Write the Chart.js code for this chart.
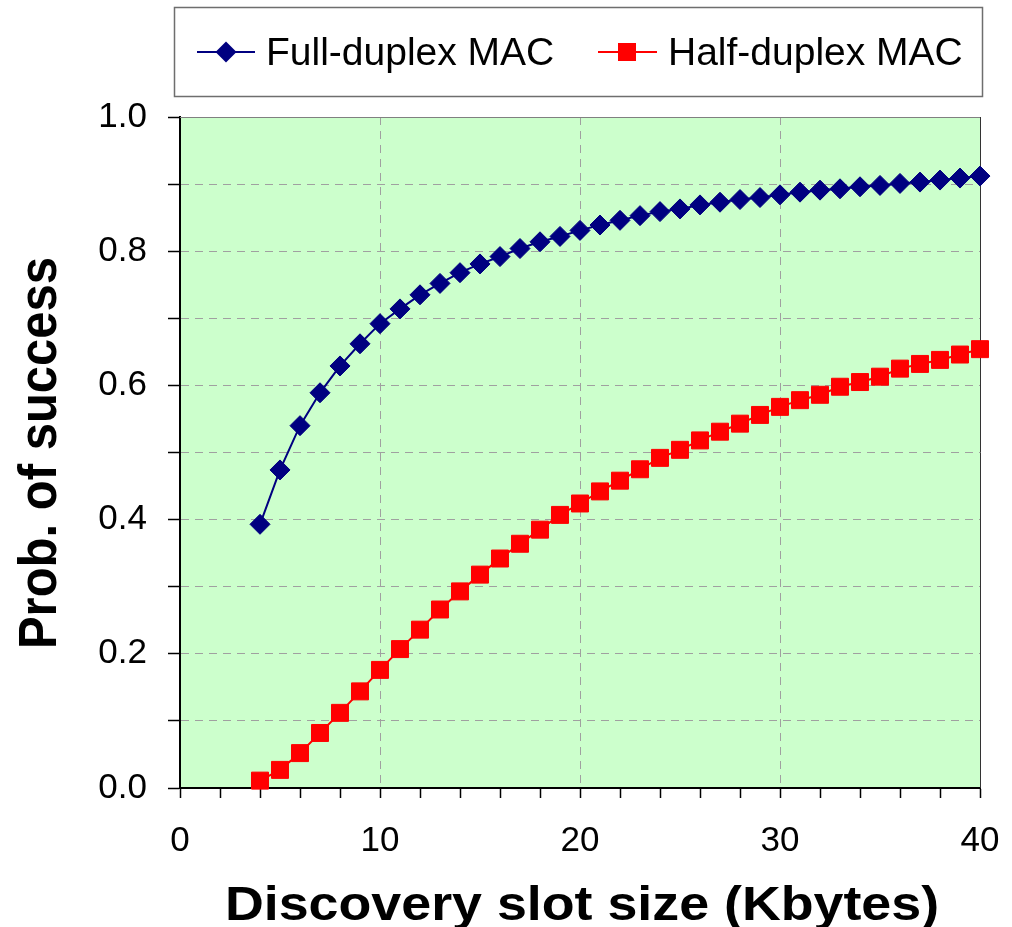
<!DOCTYPE html>
<html lang="en">
<head>
<meta charset="UTF-8">
<title>Prob. of success vs discovery slot size</title>
<script src="https://cdn.jsdelivr.net/npm/chart.js"></script>
<style>
  html, body { margin: 0; padding: 0; background: #fff; }
  #wrap { position: relative; width: 1012px; height: 927px; }
</style>
</head>
<body>
<div id="wrap"><canvas id="chart"></canvas></div>

<script>
// values
const slotSizes = [4, 5, 6, 7, 8, 9, 10, 11, 12, 13, 14, 15, 16, 17, 18, 19, 20, 21, 22,
                   23, 24, 25, 26, 27, 28, 29, 30, 31, 32, 33, 34, 35, 36, 37, 38, 39, 40];
const fullDuplex = [0.393, 0.474, 0.540, 0.589, 0.629, 0.662, 0.692, 0.714, 0.735, 0.752,
                    0.768, 0.781, 0.792, 0.804, 0.814, 0.822, 0.831, 0.839, 0.846, 0.853,
                    0.859, 0.863, 0.869, 0.873, 0.877, 0.880, 0.884, 0.888, 0.891, 0.893,
                    0.896, 0.898, 0.901, 0.903, 0.906, 0.909, 0.912];
const halfDuplex = [0.011, 0.027, 0.052, 0.082, 0.112, 0.144, 0.176, 0.207, 0.236, 0.266,
                    0.293, 0.318, 0.342, 0.364, 0.385, 0.407, 0.424, 0.442, 0.458, 0.475,
                    0.492, 0.504, 0.518, 0.531, 0.543, 0.556, 0.568, 0.578, 0.586, 0.598,
                    0.605, 0.613, 0.625, 0.632, 0.638, 0.646, 0.654];
const seriesNames = ['Full-duplex MAC', 'Half-duplex MAC'];
const xTickLabels = [0, 10, 20, 30, 40];
const yTickLabels = [0.0, 0.2, 0.4, 0.6, 0.8, 1.0];
const xTitle = 'Discovery slot size (Kbytes)';
const yTitle = 'Prob. of success';

const FONT = "'Liberation Sans', Arial, sans-serif";
Chart.defaults.font.family = FONT;
Chart.defaults.color = '#000';

// green plot area + thin frame on top/right
const plotFrame = {
    id: 'plotFrame',
    beforeDraw(chart) {
        const { ctx, chartArea: a } = chart;
        ctx.save();
        ctx.fillStyle = '#CCFFCC';
        ctx.fillRect(a.left, a.top, a.right - a.left, a.bottom - a.top);
        ctx.restore();
    },
    beforeDatasetsDraw(chart) {
        const { ctx, chartArea: a } = chart;
        ctx.save();
        ctx.lineWidth = 1;
        ctx.strokeStyle = '#808080';
        ctx.beginPath();
        ctx.moveTo(a.left, a.top + 0.5);
        ctx.lineTo(a.right, a.top + 0.5);
        ctx.stroke();
        ctx.strokeStyle = '#333';
        ctx.beginPath();
        ctx.moveTo(a.right + 0.5, a.top);
        ctx.lineTo(a.right + 0.5, a.bottom);
        ctx.stroke();
        ctx.restore();
    }
};

// legend in a box, line + marker like the original
const boxedLegend = {
    id: 'boxedLegend',
    afterDraw(chart) {
        const ctx = chart.ctx;
        ctx.save();
        ctx.strokeStyle = '#6e6e6e';
        ctx.lineWidth = 1.5;
        ctx.strokeRect(174.5, 7.5, 808, 89);

        const slots = [
            { x0: 197, x1: 255, mx: 226, tx: 266 },
            { x0: 598, x1: 657, mx: 627, tx: 668 }
        ];
        const cy = 52;
        chart.data.datasets.forEach((ds, i) => {
            const s = slots[i];
            ctx.strokeStyle = ds.borderColor;
            ctx.lineWidth = 2;
            ctx.beginPath();
            ctx.moveTo(s.x0, cy);
            ctx.lineTo(s.x1, cy);
            ctx.stroke();
            ctx.fillStyle = ds.backgroundColor;
            ctx.beginPath();
            if (ds.pointStyle === 'rectRot') {
                ctx.moveTo(s.mx - 10.5, cy);
                ctx.lineTo(s.mx, cy - 10.5);
                ctx.lineTo(s.mx + 10.5, cy);
                ctx.lineTo(s.mx, cy + 10.5);
                ctx.closePath();
            } else {
                ctx.rect(s.mx - 9, cy - 9, 18, 18);
            }
            ctx.fill();
            ctx.fillStyle = '#000';
            ctx.font = '39px ' + FONT;
            ctx.textBaseline = 'alphabetic';
            ctx.textAlign = 'left';
            ctx.fillText(ds.label, s.tx, 65);
        });
        ctx.restore();
    }
};

// bold axis titles, slightly wide like the original
const axisTitles = {
    id: 'axisTitles',
    afterDraw(chart) {
        const ctx = chart.ctx;
        ctx.save();
        ctx.fillStyle = '#000';
        ctx.textAlign = 'center';
        ctx.textBaseline = 'alphabetic';

        ctx.font = 'bold 48px ' + FONT;
        ctx.save();
        ctx.translate(582, 920);
        ctx.scale(1.12, 1);
        ctx.fillText(xTitle, 0, 0);
        ctx.restore();

        ctx.font = 'bold 49px ' + FONT;
        ctx.save();
        ctx.translate(56, 453);
        ctx.rotate(-Math.PI / 2);
        ctx.scale(1, 1.1);
        ctx.fillText(yTitle, 0, 0);
        ctx.restore();

        ctx.restore();
    }
};

function toPoints(values) {
    return slotSizes.map((s, i) => ({ x: s, y: values[i] }));
}

const ctx = document.getElementById('chart').getContext('2d');
new Chart(ctx, {
    type: 'line',
    data: {
        datasets: [{
            label: seriesNames[0],
            data: toPoints(fullDuplex),
            borderColor: '#000080',
            backgroundColor: '#000080',
            borderWidth: 2,
            pointStyle: 'rectRot',
            pointRadius: 10,
            pointHoverRadius: 10,
            pointBorderWidth: 1,
            tension: 0,
            clip: false
        }, {
            label: seriesNames[1],
            data: toPoints(halfDuplex),
            borderColor: '#FF0000',
            backgroundColor: '#FF0000',
            borderWidth: 2,
            pointStyle: 'rect',
            pointRadius: 12,
            pointHoverRadius: 12,
            pointBorderWidth: 1,
            tension: 0,
            clip: false
        }]
    },
    options: {
        responsive: true,
        maintainAspectRatio: false,
        animation: false,
        layout: { padding: { top: 117, right: 32, bottom: 0, left: 40 } },
        plugins: {
            legend: { display: false },
            tooltip: { enabled: false }
        },
        scales: {
            x: {
                type: 'linear',
                min: 0,
                max: 40,
                afterFit(scale) { scale.height = 139; },
                ticks: {
                    stepSize: 2,
                    autoSkip: false,
                    maxRotation: 0,
                    padding: 2,
                    // tall line box pushes labels down without widening the right padding
                    font: { size: 35, lineHeight: 2.35 },
                    color: '#000',
                    callback: (v) => xTickLabels.includes(v) ? String(v) : ''
                },
                grid: {
                    color: (c) => {
                        const v = c.tick ? c.tick.value : 0;
                        return (v % 10 === 0 && v > 0 && v < 40) ? '#a0a0a0' : 'rgba(0,0,0,0)';
                    },
                    lineWidth: 1,
                    tickColor: '#000',
                    tickWidth: 1.5,
                    tickLength: 10
                },
                border: { color: '#000', width: 2, dash: [8, 6] }
            },
            y: {
                min: 0,
                max: 1,
                afterFit(scale) { scale.width = 140; },
                ticks: {
                    stepSize: 0.1,
                    autoSkip: false,
                    padding: 21,
                    font: { size: 35 },
                    color: '#000',
                    callback: (v) => {
                        const t = yTickLabels.find(l => Math.abs(l - v) < 1e-6);
                        return t === undefined ? '' : t.toFixed(1);
                    }
                },
                grid: {
                    color: (c) => {
                        const v = c.tick ? c.tick.value : 0;
                        return (v > 0.05 && v < 0.95) ? '#a0a0a0' : 'rgba(0,0,0,0)';
                    },
                    lineWidth: 1,
                    tickColor: '#000',
                    tickWidth: 1.5,
                    tickLength: 12
                },
                border: { color: '#000', width: 2, dash: [8, 6] }
            }
        }
    },
    plugins: [plotFrame, boxedLegend, axisTitles]
});
</script>
</body>
</html>
